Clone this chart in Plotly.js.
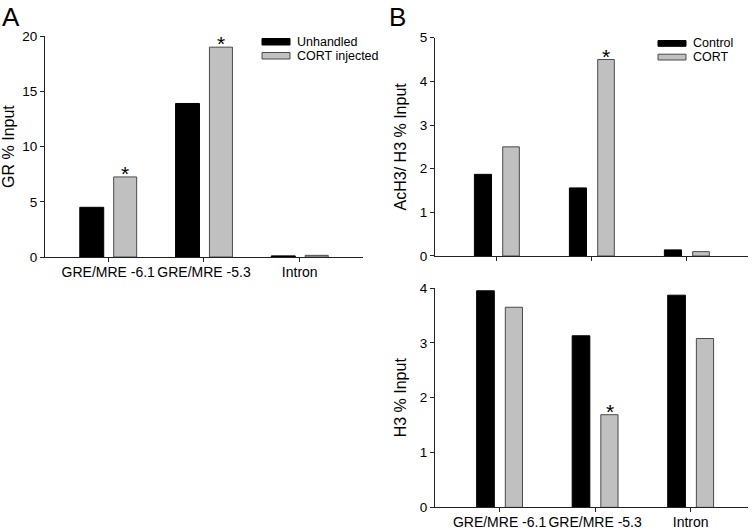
<!DOCTYPE html>
<html>
<head>
<meta charset="utf-8">
<script src="https://cdn.plot.ly/plotly-3.0.1.min.js"></script>
<style>html,body{margin:0;padding:0;background:#fff;}#chart{width:754px;height:531px;}</style>
</head>
<body>
<div id="chart"></div>
<script>
// ---- data ----
const categories = ["GRE/MRE -6.1", "GRE/MRE -5.3", "Intron"];

// Panel A: GR % Input
const grUnhandled = [4.5, 13.9, 0.1];
const grCort = [7.25, 19.0, 0.15];
const grSig = ["*", "*", ""];

// Panel B top: AcH3/H3 % Input
const achControl = [1.87, 1.56, 0.14];
const achCort = [2.5, 4.5, 0.1];
const achSig = ["", "*", ""];

// Panel B bottom: H3 % Input
const h3Control = [3.95, 3.13, 3.87];
const h3Cort = [3.65, 1.69, 3.08];
const h3Sig = ["", "*", ""];

const legendA = ["Unhandled", "CORT injected"];
const legendB = ["Control", "CORT"];

const yTicksA = [0, 5, 10, 15, 20];
const yTicksB1 = [0, 1, 2, 3, 4, 5];
const yTicksB2 = [0, 1, 2, 3, 4];

// ---- styles ----
const FONT = "Liberation Sans, Arial, sans-serif";
const BLACK = "#000000", GRAY = "#c0c0c0", GRAYLINE = "#4a4a4a";
const blackMarker = {color: BLACK, line: {color: BLACK, width: 1}};
const grayMarker = {color: GRAY, line: {color: GRAYLINE, width: 1}};

function bar(y, name, marker, xa, ya, offset, width) {
  return {
    type: "bar", x: categories, y: y, name: name, marker: marker,
    xaxis: xa, yaxis: ya, offset: offset, width: width,
    showlegend: false, hoverinfo: "skip"
  };
}

const traces = [
  bar(grUnhandled, legendA[0], blackMarker, "x", "y", -0.297, 0.25),
  bar(grCort, legendA[1], grayMarker, "x", "y", 0.057, 0.24),
  bar(achControl, legendB[0], blackMarker, "x2", "y2", -0.235, 0.18),
  bar(achCort, legendB[1], grayMarker, "x2", "y2", 0.063, 0.175),
  bar(h3Control, legendB[0], blackMarker, "x3", "y3", -0.24, 0.185),
  bar(h3Cort, legendB[1], grayMarker, "x3", "y3", 0.06, 0.18)
];

// significance stars placed on the gray bars through the axes
const annotations = [];
function stars(sig, vals, xa, ya, xshift) {
  sig.forEach(function (s, i) {
    if (!s) return;
    annotations.push({
      text: s, xref: xa, yref: ya, x: categories[i], y: vals[i],
      xanchor: "center", yanchor: "bottom", xshift: xshift, yshift: -10,
      showarrow: false, font: {family: FONT, size: 21, color: "#000"}
    });
  });
}
stars(grSig, grCort, "x", "y", 17);
stars(achSig, achCort, "x2", "y2", 14.5);
stars(h3Sig, h3Cort, "x3", "y3", 14.5);

// panel letters
annotations.push({text: "A", xref: "paper", yref: "paper", x: 0.0, y: 1.0, xanchor: "left",
  yanchor: "top", showarrow: false, font: {family: FONT, size: 26, color: "#000"}});
annotations.push({text: "B", xref: "paper", yref: "paper", x: 0.513, y: 1.0, xanchor: "left",
  yanchor: "top", showarrow: false, font: {family: FONT, size: 26, color: "#000"}});

// legends (wide swatches like the original)
const shapes = [];
function legend(names, x0, y0, dy, swW, swH) {
  const markers = [[BLACK, BLACK], [GRAY, GRAYLINE]];
  names.forEach(function (n, i) {
    const top = y0 + i * dy;
    shapes.push({type: "rect", xref: "paper", yref: "paper",
      x0: x0 / 754, x1: (x0 + swW) / 754, y0: 1 - (top + swH) / 531, y1: 1 - top / 531,
      fillcolor: markers[i][0], line: {color: markers[i][1], width: 1}});
    annotations.push({text: n, xref: "paper", yref: "paper", x: (x0 + swW + 5) / 754,
      y: 1 - (top + swH / 2) / 531, xanchor: "left", yanchor: "middle", showarrow: false,
      font: {family: FONT, size: 12.5, color: "#000"}});
  });
}
legend(legendA, 262, 38.5, 14, 28, 6.5);
legend(legendB, 658, 40.5, 13.7, 28, 5.8);

const axisBase = {
  showgrid: false, zeroline: false, showline: true, linecolor: "#222", linewidth: 1,
  ticks: "outside", ticklen: 4, tickcolor: "#222", tickwidth: 1, fixedrange: true
};
function xax(domain, range, anchor, labels) {
  return Object.assign({}, axisBase, {
    domain: domain, range: range, anchor: anchor, type: "category",
    showticklabels: labels, tickangle: 0, ticklabelstandoff: -2,
    tickfont: {family: FONT, size: 14, color: "#000"}
  });
}
function yax(domain, range, anchor, vals, title) {
  return Object.assign({}, axisBase, {
    domain: domain, range: range, anchor: anchor, tickmode: "array", tickvals: vals,
    tickfont: {family: FONT, size: 13.5, color: "#000"},
    title: {text: title, font: {family: FONT, size: 16, color: "#000"}, standoff: 9}
  });
}

const layout = {
  width: 754, height: 531,
  margin: {l: 0, r: 0, t: 0, b: 0},
  paper_bgcolor: "#fff", plot_bgcolor: "rgba(0,0,0,0)",
  barmode: "group", showlegend: false,
  font: {family: FONT, color: "#000"},
  xaxis: xax([0.0597, 0.4814], [-0.66, 2.66], "y", true),
  yaxis: yax([0.516, 0.932], [0, 20], "x", yTicksA, "GR % Input"),
  xaxis2: xax([0.5769, 0.992], [-0.65, 2.645], "y2", false),
  yaxis2: yax([0.5179, 0.929], [0, 5], "x2", yTicksB1, "AcH3/ H3 % Input"),
  xaxis3: xax([0.5769, 0.992], [-0.676, 2.6], "y3", true),
  yaxis3: yax([0.0445, 0.4575], [0, 4], "x3", yTicksB2, "H3 % Input"),
  shapes: shapes,
  annotations: annotations
};

Plotly.newPlot("chart", traces, layout, {staticPlot: true, displayModeBar: false});
</script>
</body>
</html>
